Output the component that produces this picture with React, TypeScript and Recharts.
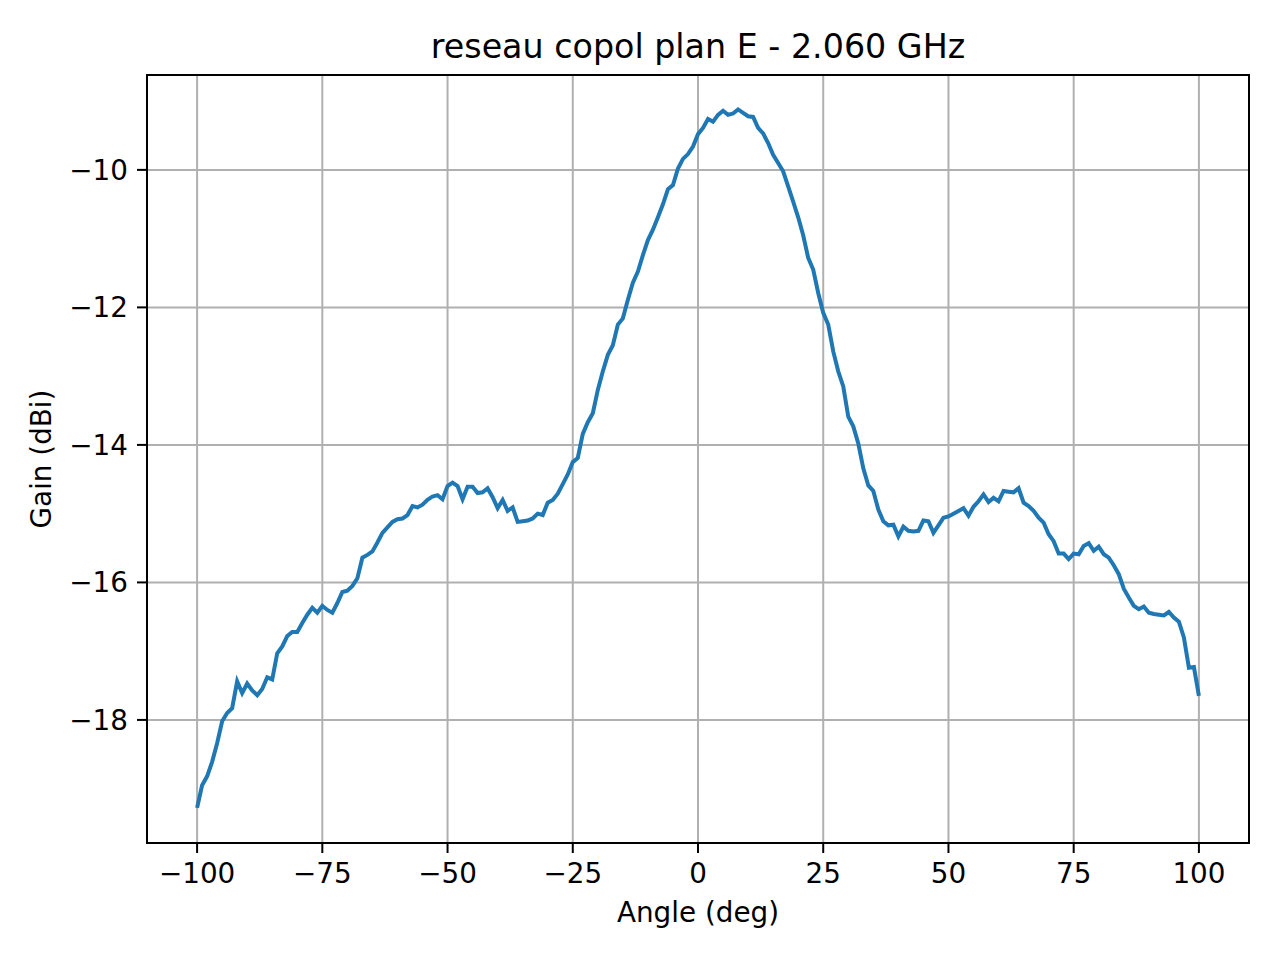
import {
  LineChart,
  Line,
  XAxis,
  YAxis,
  CartesianGrid,
  ReferenceArea,
  Label,
} from "recharts";

const ANGLES = [
  -100, -99, -98, -97, -96, -95, -94, -93, -92, -91, -90, -89, -88, -87, -86,
  -85, -84, -83, -82, -81, -80, -79, -78, -77, -76, -75, -74, -73, -72, -71,
  -70, -69, -68, -67, -66, -65, -64, -63, -62, -61, -60, -59, -58, -57, -56,
  -55, -54, -53, -52, -51, -50, -49, -48, -47, -46, -45, -44, -43, -42, -41,
  -40, -39, -38, -37, -36, -35, -34, -33, -32, -31, -30, -29, -28, -27, -26,
  -25, -24, -23, -22, -21, -20, -19, -18, -17, -16, -15, -14, -13, -12, -11,
  -10, -9, -8, -7, -6, -5, -4, -3, -2, -1, 0, 1, 2, 3, 4, 5, 6, 7, 8, 9, 10,
  11, 12, 13, 14, 15, 16, 17, 18, 19, 20, 21, 22, 23, 24, 25, 26, 27, 28, 29,
  30, 31, 32, 33, 34, 35, 36, 37, 38, 39, 40, 41, 42, 43, 44, 45, 46, 47, 48,
  49, 50, 51, 52, 53, 54, 55, 56, 57, 58, 59, 60, 61, 62, 63, 64, 65, 66, 67,
  68, 69, 70, 71, 72, 73, 74, 75, 76, 77, 78, 79, 80, 81, 82, 83, 84, 85, 86,
  87, 88, 89, 90, 91, 92, 93, 94, 95, 96, 97, 98, 99, 100,
];

// gain in dBi, one value per degree
const GAIN = [
  -19.28, -18.95, -18.82, -18.61, -18.34, -18.02, -17.9, -17.83, -17.44, -17.61,
  -17.47, -17.57, -17.64, -17.55, -17.38, -17.41, -17.03, -16.93, -16.78, -16.72,
  -16.72, -16.59, -16.47, -16.37, -16.44, -16.34, -16.4, -16.44, -16.3, -16.14,
  -16.12, -16.05, -15.94, -15.64, -15.6, -15.55, -15.42, -15.28, -15.2, -15.12,
  -15.08, -15.07, -15.02, -14.89, -14.91, -14.87, -14.8, -14.75, -14.73, -14.79,
  -14.6, -14.55, -14.6, -14.79, -14.61, -14.61, -14.7, -14.69, -14.63, -14.76,
  -14.92, -14.8, -14.96, -14.91, -15.12, -15.11, -15.1, -15.07, -15.0, -15.02,
  -14.84, -14.8, -14.71, -14.57, -14.43, -14.25, -14.19, -13.84, -13.67, -13.54,
  -13.2, -12.93, -12.69, -12.55, -12.25, -12.16, -11.89, -11.64, -11.48, -11.24,
  -11.02, -10.87, -10.69, -10.5, -10.28, -10.22, -9.98, -9.84, -9.77, -9.66,
  -9.48, -9.39, -9.26, -9.3, -9.2, -9.14, -9.2, -9.18, -9.12, -9.17,
  -9.22, -9.23, -9.39, -9.47, -9.61, -9.78, -9.9, -10.02, -10.24, -10.46,
  -10.69, -10.95, -11.28, -11.45, -11.79, -12.08, -12.25, -12.64, -12.93, -13.15,
  -13.59, -13.73, -13.98, -14.34, -14.59, -14.67, -14.94, -15.11, -15.17, -15.16,
  -15.33, -15.19, -15.25, -15.26, -15.25, -15.1, -15.11, -15.28, -15.17, -15.06,
  -15.04, -15.0, -14.96, -14.92, -15.03, -14.9, -14.82, -14.72, -14.83, -14.77,
  -14.82, -14.67, -14.68, -14.69, -14.63, -14.84, -14.89, -14.96, -15.06, -15.13,
  -15.3, -15.4, -15.58, -15.58, -15.66, -15.58, -15.59, -15.47, -15.43, -15.54,
  -15.48, -15.59, -15.64, -15.75, -15.88, -16.09, -16.22, -16.34, -16.39, -16.35,
  -16.44, -16.46, -16.47, -16.48, -16.43, -16.51, -16.57, -16.8, -17.24, -17.23,
  -17.65,
];

const X_TICKS = [-100, -75, -50, -25, 0, 25, 50, 75, 100];
const Y_TICKS = [-18, -16, -14, -12, -10];
const X_DOMAIN = [-110, 110];
const Y_DOMAIN = [-19.79, -8.62];

const FONT = "DejaVu Sans";
const LABEL_SIZE = 27.8;

const data = ANGLES.map((angle, i) => ({ angle, gain: GAIN[i] }));

const fmt = (v: number) => (v < 0 ? "\u2212" + Math.abs(v) : String(v));

export default function App() {
  return (
    <div
      style={{
        position: "absolute",
        left: 0,
        top: 0,
        width: 1280,
        height: 960,
        background: "#fff",
        fontFamily: FONT,
      }}
    >
      <div
        style={{
          position: "absolute",
          left: 147,
          top: 30.3,
          width: 1102,
          textAlign: "center",
          fontSize: 33.3,
          lineHeight: "33.3px",
          color: "#000",
          fontFamily: FONT,
        }}
      >
        reseau copol plan E - 2.060 GHz
      </div>
      <LineChart
        width={1280}
        height={960}
        data={data}
        margin={{ top: 75, right: 31, bottom: 0, left: 47 }}
      >
        <CartesianGrid stroke="#b0b0b0" strokeWidth={2} />
        <XAxis
          dataKey="angle"
          type="number"
          domain={X_DOMAIN}
          ticks={X_TICKS}
          tickFormatter={fmt}
          height={117}
          axisLine={false}
          tickLine={{ stroke: "#000", strokeWidth: 2 }}
          tickSize={10}
          tickMargin={10.5}
          tick={{ fill: "#000", fontSize: LABEL_SIZE, fontFamily: FONT }}
          allowDataOverflow
        >
          <Label
            content={() => (
              <text
                x={698}
                y={922.3}
                textAnchor="middle"
                fontSize={LABEL_SIZE}
                fontFamily={FONT}
                fill="#000"
              >
                Angle (deg)
              </text>
            )}
          />
        </XAxis>
        <YAxis
          type="number"
          domain={Y_DOMAIN}
          ticks={Y_TICKS}
          tickFormatter={fmt}
          width={100}
          axisLine={false}
          tickLine={{ stroke: "#000", strokeWidth: 2 }}
          tickSize={10}
          tickMargin={9}
          tick={{ fill: "#000", fontSize: LABEL_SIZE, fontFamily: FONT }}
          allowDataOverflow
        >
          <Label
            content={() => (
              <text
                x={51}
                y={459}
                transform="rotate(-90 51 459)"
                textAnchor="middle"
                fontSize={LABEL_SIZE}
                fontFamily={FONT}
                fill="#000"
              >
                Gain (dBi)
              </text>
            )}
          />
        </YAxis>
        <Line
          type="linear"
          dataKey="gain"
          stroke="#1f77b4"
          strokeWidth={4}
          dot={false}
          activeDot={false}
          isAnimationActive={false}
        />
        <ReferenceArea
          x1={X_DOMAIN[0]}
          x2={X_DOMAIN[1]}
          y1={Y_DOMAIN[0]}
          y2={Y_DOMAIN[1]}
          fill="none"
          stroke="#000"
          strokeWidth={2}
        />
      </LineChart>
    </div>
  );
}
